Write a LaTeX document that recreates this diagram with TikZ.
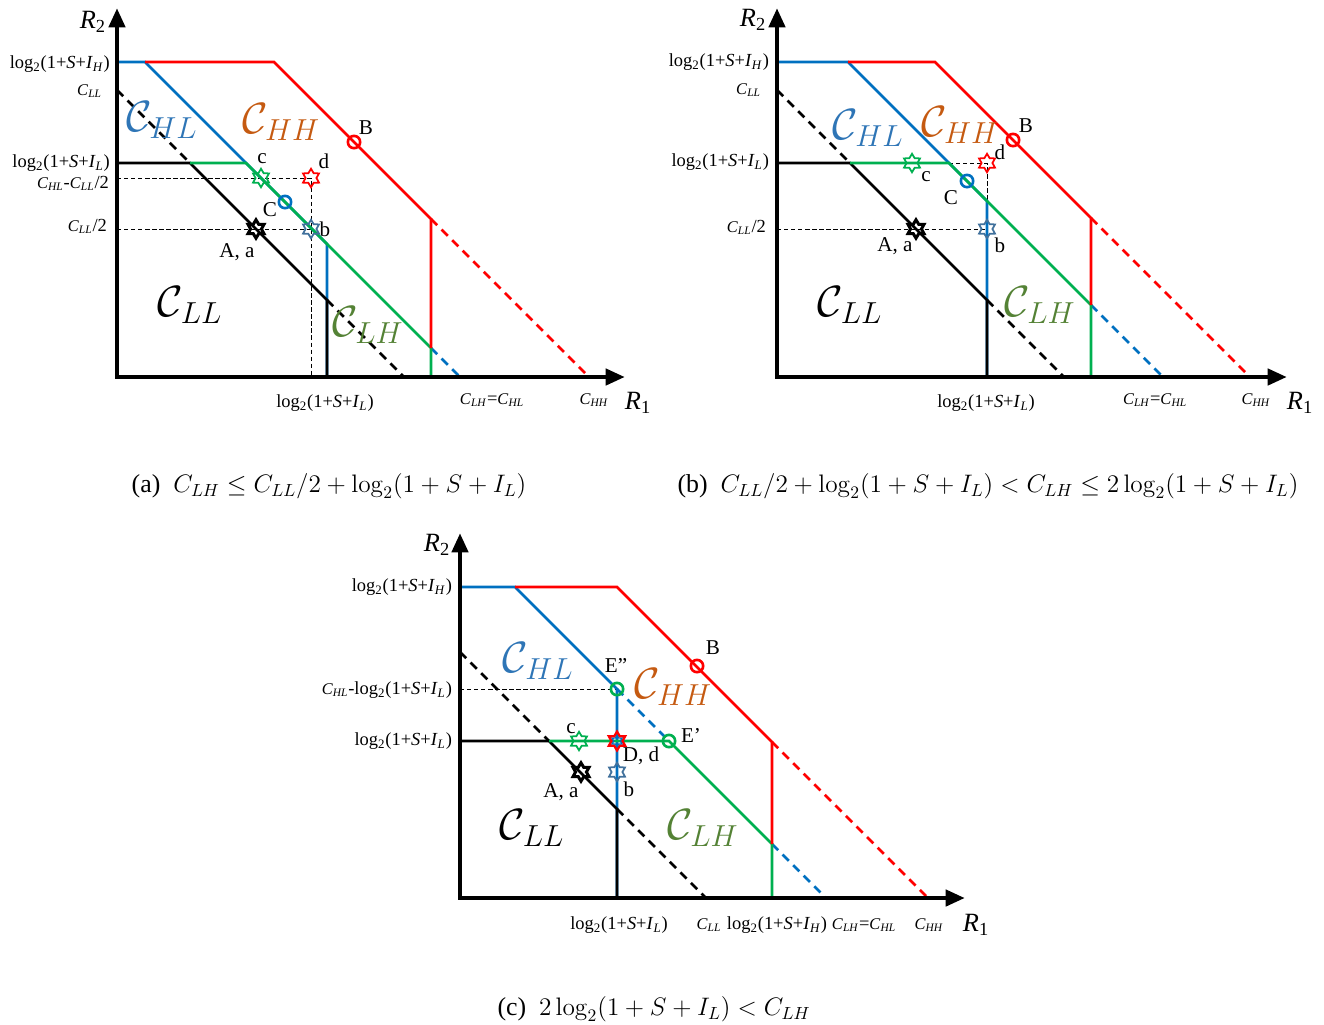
\documentclass[tikz,border=0pt]{standalone}
\usepackage[no-math]{fontspec}
\setmainfont{Liberation Serif}
\usetikzlibrary{shapes.geometric,arrows.meta}
\definecolor{rred}{RGB}{255,0,0}
\definecolor{bblue}{RGB}{0,112,192}
\definecolor{ggreen}{RGB}{0,176,80}
\definecolor{hlcol}{RGB}{46,117,182}
\definecolor{hhcol}{RGB}{197,90,17}
\definecolor{lhcol}{RGB}{84,130,53}
\definecolor{bstar}{RGB}{65,113,156}
\newcommand{\lgt}[1]{log\textsubscript{2}(1+\textit{S}+\textit{I}\textsubscript{\textit{#1}})}
\newcommand{\Csub}[1]{{\fontsize{9.3}{10}\selectfont\textit{C}\textsubscript{\textit{#1}}}}
\newcommand{\Rax}[1]{\textit{R}\textsubscript{#1}}

\begin{document}
\begin{tikzpicture}[x=0.2mm,y=-0.2mm,line join=miter,
  every node/.style={font=\fontsize{10.5}{12}\selectfont,inner sep=1pt},
  axis/.style={line width=2.7pt,{Triangle[length=11pt,width=9pt]}-{Triangle[length=11pt,width=9pt]}},
  bnd/.style={line width=1.6pt},
  ext/.style={line width=1.6pt,dash pattern=on 5pt off 3.5pt},
  guide/.style={line width=.5pt,dash pattern=on 2.5pt off 1.5pt},
  hex/.style={star,star points=6,star point ratio=1.7,draw,line width=1pt,
    minimum size=10.5pt,inner sep=0pt},
  ring/.style={circle,draw,line width=1.5pt,minimum size=7pt,inner sep=0pt},
  ptlab/.style={font=\fontsize{12}{14}\selectfont},
  axlab/.style={font=\fontsize{15}{16}\selectfont},
  reg/.style={font=\fontsize{24}{24}\selectfont},
  capt/.style={font=\fontsize{14.7}{17}\selectfont}]
  \useasboundingbox (0,0) rectangle (1324,1024);

  % ---------------- (a) ----------------
  \coordinate (aO) at (117,377);  \coordinate (aT) at (117,8);
  \coordinate (aR) at (625,377);  \coordinate (aH) at (117,62);
  \coordinate (aHb) at (145,62);  \coordinate (aHr) at (274,62);
  \coordinate (aCL) at (117,90);  \coordinate (aL0) at (117,163);
  \coordinate (aLk) at (190,163); \coordinate (aLg) at (246,163);
  \coordinate (aBv) at (327,244); \coordinate (aBx) at (327,377);
  \coordinate (aKv) at (327,300); \coordinate (aKx) at (404,377);
  \coordinate (aRc) at (431,219); \coordinate (aRg) at (431,348);
  \coordinate (aGx) at (431,377); \coordinate (aRx) at (589,377);
  \coordinate (aBd) at (460,377);
  \coordinate (aG1) at (117,178); \coordinate (aG2) at (117,229);
  \coordinate (aQd) at (311,178); \coordinate (aQb) at (311,229);
  \coordinate (aQx) at (311,377);
  \draw[guide] (aG1)--(aQd)--(aQx) (aG2)--(aQb);
  \draw[bnd,bblue] (aH)--(aHb)--(aBv)--(aBx);
  \draw[ext,bblue] (aRg)--(aBd);
  \draw[bnd] (aL0)--(aLk)--(aKv)--(aBx);
  \draw[ext] (aCL)--(aLk) (aKv)--(aKx);
  \draw[bnd,ggreen] (aLk)--(aLg)--(aRg)--(aGx);
  \draw[bnd,rred] (aHb)--(aHr)--(aRc)--(aRg);
  \draw[ext,rred] (aRc)--(aRx);
  \draw[axis] (aT)--(aO)--(aR);
  \node[hex,draw=ggreen] (ac) at (261,178) {};
  \node[hex,draw=rred] (ad) at (aQd) {};
  \node[ring,draw=bblue] (aC) at (285,202) {};
  \node[hex,draw=bstar] (ab) at (aQb) {};
  \node[hex,draw=black,line width=1.7pt] (aA) at (256,229) {};
  \node[ring,draw=rred] (aB) at (354,142) {};
  \node[ptlab] (acl) at (262,159) {c};
  \node[ptlab] (adl) at (324,161) {d};
  \node[ptlab] (aCl) at (270,210) {C};
  \node[ptlab] (abl) at (325,229) {b};
  \node[ptlab] (aAl) at (237,252) {A, a};
  \node[ptlab] (aBl) at (366,128) {B};
  \node[reg,text=hlcol] (aHL) at (162,120) {$\mathcal{C}_{HL}$};
  \node[reg,text=hhcol] (aHH) at (281,122) {$\mathcal{C}_{HH}$};
  \node[reg] (aLL) at (190,305) {$\mathcal{C}_{LL}$};
  \node[reg,text=lhcol] (aLH) at (368,325) {$\mathcal{C}_{LH}$};
  \node[axlab] (aR2) at (93,22) {\Rax{2}};
  \node[axlab] (aR1) at (638,403) {\Rax{1}};
  \node[anchor=east] (ay1) at (112,64) {\lgt{H}};
  \node[anchor=east] (ay2) at (104,91) {\Csub{LL}};
  \node[anchor=east] (ay3) at (112,163) {\lgt{L}};
  \node[anchor=east] (ay4) at (111,183) {\Csub{HL}-\Csub{LL}/2};
  \node[anchor=east] (ay5) at (109,226) {\Csub{LL}/2};
  \node (ax1) at (325,403) {\lgt{L}};
  \node (ax2) at (492,400) {\Csub{LH}=\Csub{HL}};
  \node (ax3) at (594,400) {\Csub{HH}};
  \node[capt] (acap) at (329,486) {(a)\ \ $C_{LH}\leq C_{LL}/2+\log_2(1+S+I_L)$};

  % ---------------- (b) ----------------
  \coordinate (bO) at (777,377);  \coordinate (bT) at (777,8);
  \coordinate (bR) at (1287,377); \coordinate (bH) at (777,62);
  \coordinate (bHb) at (848,62);  \coordinate (bHr) at (935,62);
  \coordinate (bCL) at (777,90);  \coordinate (bL0) at (777,163);
  \coordinate (bLk) at (850,163); \coordinate (bLg) at (949,163);
  \coordinate (bBv) at (987,201); \coordinate (bBx) at (987,377);
  \coordinate (bKv) at (987,300); \coordinate (bKx) at (1064,377);
  \coordinate (bRc) at (1091,218);\coordinate (bRg) at (1091,305);
  \coordinate (bGx) at (1091,377);\coordinate (bRx) at (1250,377);
  \coordinate (bBd) at (1163,377);
  \coordinate (bG2) at (777,229);
  \coordinate (bQd) at (987,163); \coordinate (bQb) at (987,229);
  \draw[guide] (bLg)--(bQd)--(bBx) (bG2)--(bQb);
  \draw[bnd,bblue] (bH)--(bHb)--(bBv)--(bBx);
  \draw[ext,bblue] (bRg)--(bBd);
  \draw[bnd] (bL0)--(bLk)--(bKv)--(bBx);
  \draw[ext] (bCL)--(bLk) (bKv)--(bKx);
  \draw[bnd,ggreen] (bLk)--(bLg)--(bRg)--(bGx);
  \draw[bnd,rred] (bHb)--(bHr)--(bRc)--(bRg);
  \draw[ext,rred] (bRc)--(bRx);
  \draw[axis] (bT)--(bO)--(bR);
  \node[hex,draw=ggreen] (bc) at (912,163) {};
  \node[hex,draw=rred] (bd) at (bQd) {};
  \node[ring,draw=bblue] (bC) at (967,181) {};
  \node[hex,draw=bstar] (bb) at (bQb) {};
  \node[hex,draw=black,line width=1.7pt] (bA) at (916,229) {};
  \node[ring,draw=rred] (bB) at (1013,140) {};
  \node[ptlab] (bcl) at (926,177) {c};
  \node[ptlab] (bdl) at (1000,152) {d};
  \node[ptlab] (bCl) at (951,198) {C};
  \node[ptlab] (bbl) at (1000,245) {b};
  \node[ptlab] (bAl) at (895,246) {A, a};
  \node[ptlab] (bBl) at (1026,126) {B};
  \node[reg,text=hlcol] (bHL) at (868,128) {$\mathcal{C}_{HL}$};
  \node[reg,text=hhcol] (bHH) at (960,125) {$\mathcal{C}_{HH}$};
  \node[reg] (bLL) at (850,305) {$\mathcal{C}_{LL}$};
  \node[reg,text=lhcol] (bLH) at (1040,305) {$\mathcal{C}_{LH}$};
  \node[axlab] (bR2) at (753,20) {\Rax{2}};
  \node[axlab] (bR1) at (1300,403) {\Rax{1}};
  \node[anchor=east] (by1) at (771,62) {\lgt{H}};
  \node[anchor=east] (by2) at (763,90) {\Csub{LL}};
  \node[anchor=east] (by3) at (771,162) {\lgt{L}};
  \node[anchor=east] (by4) at (768,227) {\Csub{LL}/2};
  \node (bx1) at (986,403) {\lgt{L}};
  \node (bx2) at (1155,400) {\Csub{LH}=\Csub{HL}};
  \node (bx3) at (1256,400) {\Csub{HH}};
  \node[capt] (bcap) at (988,486) {(b)\ \ $C_{LL}/2+\log_2(1+S+I_L)<C_{LH}\leq 2\log_2(1+S+I_L)$};

  % ---------------- (c) ----------------
  \coordinate (cO) at (460,898);  \coordinate (cT) at (460,533);
  \coordinate (cR) at (965,898);  \coordinate (cH) at (460,587);
  \coordinate (cHb) at (515,587); \coordinate (cHr) at (617,587);
  \coordinate (cCL) at (460,652); \coordinate (cL0) at (460,741);
  \coordinate (cLk) at (549,741); \coordinate (cE2) at (617,689);
  \coordinate (cE1) at (669,741); \coordinate (cBx) at (617,898);
  \coordinate (cKv) at (617,809); \coordinate (cKx) at (706,898);
  \coordinate (cRc) at (772,742); \coordinate (cRg) at (772,844);
  \coordinate (cGx) at (772,898); \coordinate (cRx) at (928,898);
  \coordinate (cBd) at (826,898); \coordinate (cG1) at (460,689);
  \draw[guide] (cG1)--(cE2);
  \draw[bnd,bblue] (cH)--(cHb)--(cE2)--(cBx);
  \draw[ext,bblue] (cE2)--(cE1) (cRg)--(cBd);
  \draw[bnd] (cL0)--(cLk)--(cKv)--(cBx);
  \draw[ext] (cCL)--(cLk) (cKv)--(cKx);
  \draw[bnd,ggreen] (cLk)--(cE1)--(cRg)--(cGx);
  \draw[bnd,rred] (cHb)--(cHr)--(cRc)--(cRg);
  \draw[ext,rred] (cRc)--(cRx);
  \draw[axis] (cT)--(cO)--(cR);
  \node[ring,draw=ggreen] (cEpp) at (cE2) {};
  \node[ring,draw=ggreen] (cEp) at (cE1) {};
  \node[hex,draw=ggreen] (cc) at (579,741) {};
  \node[hex,draw=rred,line width=1.4pt] (cD) at (617,741) {};
  \node[hex,draw=bblue,minimum size=6.5pt,line width=.7pt] (cDi) at (617,741) {};
  \node[hex,draw=bstar] (cb) at (617,772) {};
  \node[hex,draw=black,line width=1.7pt] (cA) at (581,772) {};
  \node[ring,draw=rred] (cB) at (697,666) {};
  \node[ptlab] (cEppl) at (616,665) {E''};
  \node[ptlab] (cEpl) at (691,735) {E'};
  \node[ptlab] (ccl) at (571,729) {c};
  \node[ptlab] (cDl) at (641,756) {D, d};
  \node[ptlab] (cbl) at (629,789) {b};
  \node[ptlab] (cAl) at (561,792) {A, a};
  \node[ptlab] (cBl) at (713,648) {B};
  \node[reg,text=hlcol] (cHL) at (538,661) {$\mathcal{C}_{HL}$};
  \node[reg,text=hhcol] (cHH) at (673,687) {$\mathcal{C}_{HH}$};
  \node[reg] (cLL) at (532,828) {$\mathcal{C}_{LL}$};
  \node[reg,text=lhcol] (cLH) at (703,828) {$\mathcal{C}_{LH}$};
  \node[axlab] (cR2) at (437,545) {\Rax{2}};
  \node[axlab] (cR1) at (976,925) {\Rax{1}};
  \node[anchor=east] (cy1) at (454,587) {\lgt{H}};
  \node[anchor=east] (cy2) at (454,690) {\Csub{HL}-\lgt{L}};
  \node[anchor=east] (cy3) at (454,741) {\lgt{L}};
  \node (cx1) at (619,925) {\lgt{L}};
  \node (cx2) at (709,925) {\Csub{LL}};
  \node (cx3) at (777,925) {\lgt{H}};
  \node (cx4) at (864,925) {\Csub{LH}=\Csub{HL}};
  \node (cx5) at (929,925) {\Csub{HH}};
  \node[capt] (ccap) at (654,1009) {(c)\ \ $2\log_2(1+S+I_L)<C_{LH}$};
\end{tikzpicture}
\end{document}
